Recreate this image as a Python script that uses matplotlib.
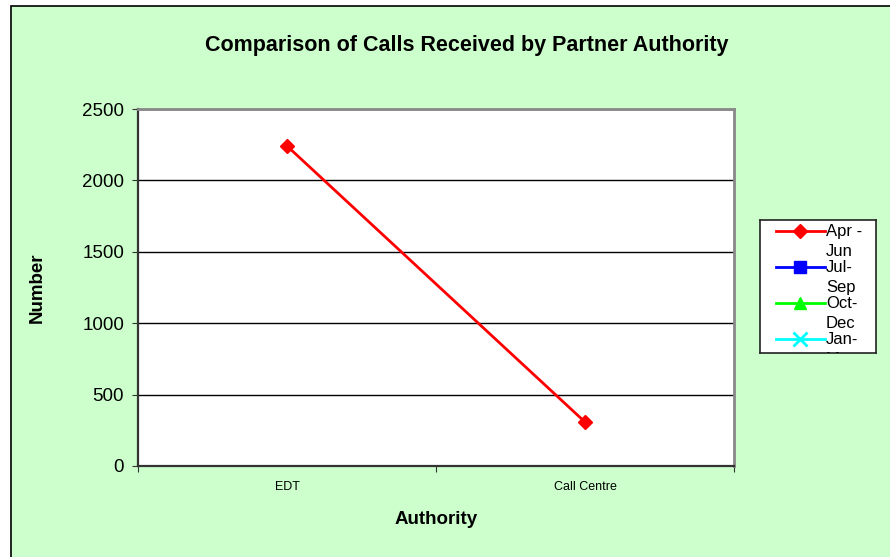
import numpy as np
import matplotlib.pyplot as plt
from matplotlib.lines import Line2D

plt.rcParams['font.family'] = ['Liberation Sans', 'DejaVu Sans']

categories = ["EDT", "Call Centre"]
apr_jun = [2241, 308]
jul_sep = [np.nan, np.nan]
oct_dec = [np.nan, np.nan]
jan_mar = [np.nan, np.nan]

series = [
    ("Apr -\nJun", apr_jun, "#FF0000", "D", 7),
    ("Jul-\nSep", jul_sep, "#0000FF", "s", 8),
    ("Oct-\nDec", oct_dec, "#00FF00", "^", 9),
    ("Jan-\nMar", jan_mar, "#00FFFF", "x", 10),
]

W, H = 890, 557
bg = "#CCFFCC"
fig = plt.figure(figsize=(W / 100, H / 100), dpi=100, facecolor="white")
# chart area background with border (right/bottom edges fall outside the image)
fig.patches.append(plt.Rectangle((11 / W, -0.01), 1.0, 1 - 6 / H + 0.01, transform=fig.transFigure,
                                 facecolor=bg, edgecolor="black", linewidth=1.2, zorder=-10))

ax = fig.add_axes([138 / W, 1 - 466 / H, (734 - 138) / W, (466 - 109) / H])
ax.set_facecolor("white")

x = np.arange(len(categories)) + 0.5
for label, vals, color, marker, ms in series:
    ax.plot(x, vals, color=color, marker=marker, markersize=ms, linewidth=2,
            markeredgewidth=2 if marker == "x" else 1, label=label, clip_on=False)

ax.set_xlim(0, len(categories))
ax.set_ylim(0, 2500)
ax.set_yticks(np.arange(0, 2501, 500))
ax.yaxis.grid(True, color="black", linewidth=1)
ax.set_axisbelow(True)
ax.tick_params(axis="y", labelsize=13.5, direction="out", length=4, pad=6, color="#333333")

ax.set_xticks(np.arange(len(categories) + 1))
ax.set_xticklabels([])
ax.set_xticks(x, minor=True)
ax.set_xticklabels(categories, minor=True, fontsize=9)
ax.tick_params(axis="x", which="major", direction="out", length=4, color="#333333")
ax.tick_params(axis="x", which="minor", length=0, pad=11)

for side in ["left", "bottom"]:
    ax.spines[side].set_color("#333333")
    ax.spines[side].set_linewidth(1.6)
for side in ["top", "right"]:
    ax.spines[side].set_color("#888888")
    ax.spines[side].set_linewidth(2)

ax.set_xlabel("Authority", fontsize=13.5, fontweight="bold", labelpad=13)
ax.set_ylabel("Number", fontsize=13.5, fontweight="bold", labelpad=26)
fig.text(467 / W, 1 - 46 / H, "Comparison of Calls Received by Partner Authority",
         ha="center", va="center", fontsize=15.5, fontweight="bold")

# legend drawn as a small box of its own, so the wrapped labels can overlap and clip like the original
lax = fig.add_axes([760 / W, 1 - 353 / H, (876 - 760) / W, (353 - 220) / H])
lax.set_xlim(760, 876)
lax.set_ylim(353, 220)
lax.set_xticks([])
lax.set_yticks([])
lax.set_facecolor("white")
for s in lax.spines.values():
    s.set_color("#222222")
    s.set_linewidth(1.2)
rows = [231, 267, 303, 339]
for (label, vals, color, marker, ms), yy in zip(series, rows):
    lax.add_line(Line2D([776, 825], [yy, yy], color=color, linewidth=2))
    lax.plot([800], [yy], color=color, marker=marker, markersize=ms,
             markeredgewidth=2 if marker == "x" else 1)
    first, second = label.split("\n")
    lax.text(826, yy + 1, first, fontsize=12, va="center", ha="left", clip_on=True)
    lax.text(826, yy + 21, second, fontsize=12, va="center", ha="left", clip_on=True)

fig.savefig("out.png", dpi=100, facecolor="white")
